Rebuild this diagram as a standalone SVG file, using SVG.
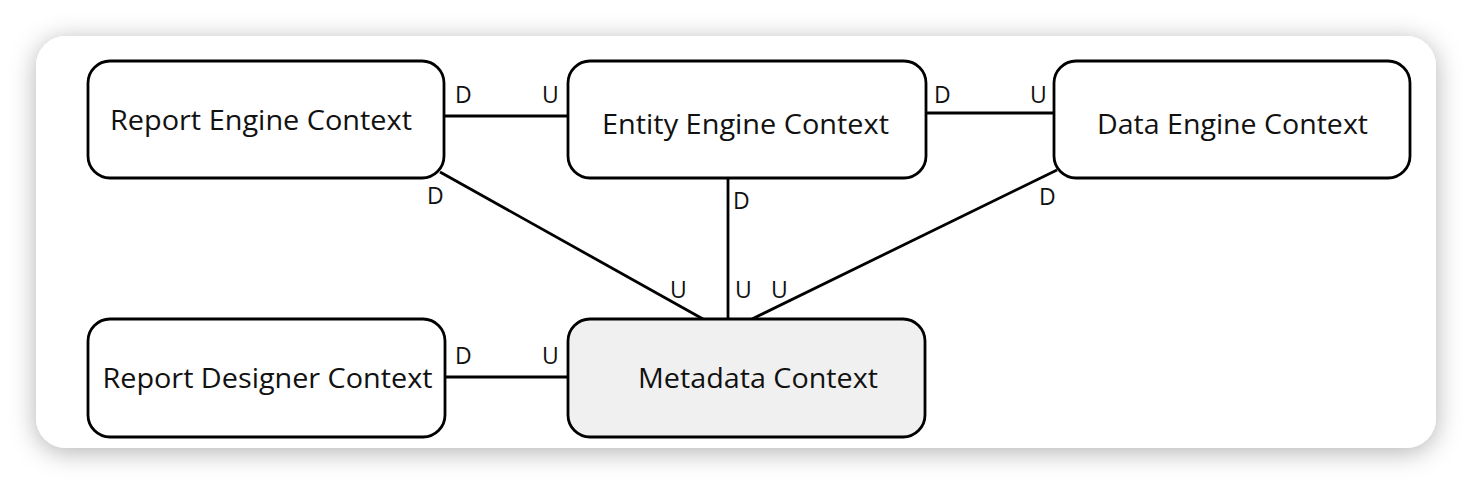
<svg xmlns="http://www.w3.org/2000/svg" width="1472" height="484" viewBox="0 0 1472 484">
<defs>
<filter id="shadow" x="-10%" y="-20%" width="120%" height="140%">
<feDropShadow dx="0" dy="4" stdDeviation="13" flood-color="#000" flood-opacity="0.3"/>
</filter>
<style>
.box{fill:#ffffff;stroke:#000;stroke-width:2.8}
.meta{fill:#f0f0f0}
.lbl{font-family:"Open Sans",Lato,sans-serif;font-size:27px;fill:#111;text-anchor:middle}
.end{font-family:"Open Sans",Lato,sans-serif;font-size:23px;fill:#111}
.conn{stroke:#000;stroke-width:2.8;fill:none}
</style>
</defs>
<rect x="0" y="0" width="1472" height="484" fill="#ffffff"/>
<rect x="36" y="36" width="1400" height="412" rx="30" fill="#ffffff" filter="url(#shadow)"/>
<g id="connectors">
<line class="conn" x1="444" y1="116" x2="568" y2="116"/>
<line class="conn" x1="927" y1="113" x2="1054" y2="113"/>
<line class="conn" x1="440" y1="172" x2="703" y2="319"/>
<line class="conn" x1="728" y1="178" x2="728" y2="319"/>
<line class="conn" x1="1057" y1="170" x2="752" y2="319"/>
<line class="conn" x1="444" y1="377" x2="568" y2="377"/>
<text class="end" x="455" y="103">D</text>
<text class="end" x="542" y="103">U</text>
<text class="end" x="934" y="103">D</text>
<text class="end" x="1030" y="103">U</text>
<text class="end" x="427" y="204">D</text>
<text class="end" x="733" y="209">D</text>
<text class="end" x="1039" y="205">D</text>
<text class="end" x="670" y="298">U</text>
<text class="end" x="735" y="298">U</text>
<text class="end" x="771" y="298">U</text>
<text class="end" x="455" y="364">D</text>
<text class="end" x="542" y="364">U</text>
</g>
<g id="report-engine">
<rect class="box" x="88" y="61" width="356" height="117" rx="22"/>
<text class="lbl" x="261" y="130" textLength="302" lengthAdjust="spacingAndGlyphs">Report Engine Context</text>
</g>
<g id="entity-engine">
<rect class="box" x="568" y="61" width="358" height="117" rx="22"/>
<text class="lbl" x="745.5" y="134" textLength="287" lengthAdjust="spacingAndGlyphs">Entity Engine Context</text>
</g>
<g id="data-engine">
<rect class="box" x="1054" y="61" width="356" height="117" rx="22"/>
<text class="lbl" x="1232.5" y="134" textLength="271" lengthAdjust="spacingAndGlyphs">Data Engine Context</text>
</g>
<g id="report-designer">
<rect class="box" x="88" y="319" width="357" height="118" rx="22"/>
<text class="lbl" x="267.5" y="388" textLength="330" lengthAdjust="spacingAndGlyphs">Report Designer Context</text>
</g>
<g id="metadata">
<rect class="box meta" x="568" y="319" width="357" height="118" rx="22"/>
<text class="lbl" x="758" y="388" textLength="240" lengthAdjust="spacingAndGlyphs">Metadata Context</text>
</g>
</svg>
